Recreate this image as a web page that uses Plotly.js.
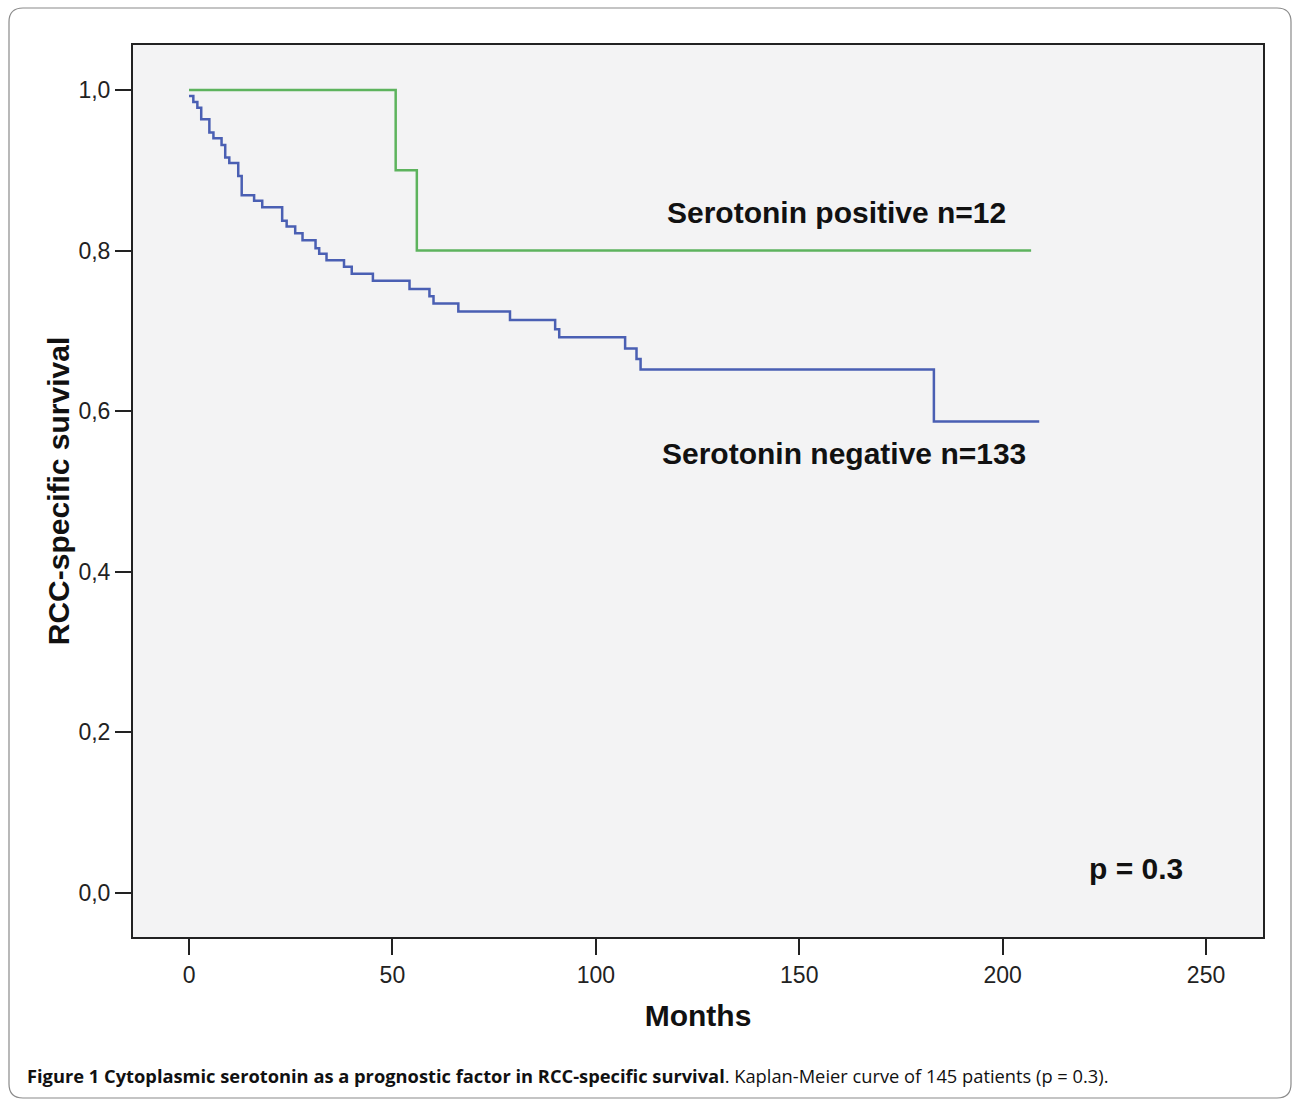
<!DOCTYPE html>
<html>
<head>
<meta charset="utf-8">
<script src="https://cdn.plot.ly/plotly-3.0.1.min.js"></script>
<style>
  html, body { margin: 0; padding: 0; background: #ffffff; }
  #chart { width: 1292px; height: 1100px; }
</style>
</head>
<body>
<div id="chart"></div>
<script>
// Serotonin negative (n=133) Kaplan-Meier steps
const negTime = [0, 1.06, 2.05, 3.0, 5.0, 6.0, 8.0, 8.9, 9.9, 12.1, 12.95, 16.0, 18.0, 22.9, 24.0, 26.1, 27.9, 31.1, 32.0, 33.8, 38.1, 40.0, 45.2, 54.2, 59.1, 60.1, 66.2, 78.9, 90.0, 91.0, 107.2, 110.0, 111.0, 183.1, 209.0];
const negSurv = [0.9925, 0.985, 0.978, 0.9635, 0.947, 0.94, 0.9315, 0.916, 0.909, 0.893, 0.869, 0.862, 0.854, 0.837, 0.830, 0.8215, 0.813, 0.803, 0.796, 0.788, 0.780, 0.771, 0.7625, 0.752, 0.743, 0.734, 0.724, 0.7136, 0.702, 0.692, 0.678, 0.665, 0.652, 0.587, 0.587];

// Serotonin positive (n=12)
const posTime = [0, 50.8, 56.0, 207.0];
const posSurv = [1.0, 0.9, 0.8, 0.8];

// Axis ticks
const xTickVals = [0, 50, 100, 150, 200, 250];
const yTickVals = [0, 0.2, 0.4, 0.6, 0.8, 1.0];
const yTickText = ['0,0', '0,2', '0,4', '0,6', '0,8', '1,0'];

// Labels
const labelPos = 'Serotonin positive n=12';
const labelNeg = 'Serotonin negative n=133';
const labelP = 'p = 0.3';
const caption = '<b>Figure 1 Cytoplasmic serotonin as a prognostic factor in RCC-specific survival</b>. Kaplan-Meier curve of 145 patients (p = 0.3).';

const traces = [
  {
    x: negTime, y: negSurv, type: 'scatter', mode: 'lines',
    line: { shape: 'hv', color: '#4a5fb3', width: 2.5 },
    name: 'Serotonin negative', showlegend: false, hoverinfo: 'skip'
  },
  {
    x: posTime, y: posSurv, type: 'scatter', mode: 'lines',
    line: { shape: 'hv', color: '#5db35d', width: 2.5 },
    name: 'Serotonin positive', showlegend: false, hoverinfo: 'skip'
  }
];

const axisFont = { family: 'Liberation Sans, Arial, sans-serif', size: 23, color: '#222' };
const titleFont = { family: 'Liberation Sans, Arial, sans-serif', size: 30, color: '#111', weight: 'bold' };

// Outer rounded frame (paper coords relative to plot area)
const L = 133, R = 1263, T = 45, B = 937;
const W = R - L, H = B - T;
const px = v => (v - L) / W;
const py = v => (B - v) / H;
const fx0 = 9, fx1 = 1291, fy0 = 8, fy1 = 1098, rad = 14;
const framePath = [
  'M', px(fx0 + rad), py(fy0),
  'L', px(fx1 - rad), py(fy0),
  'Q', px(fx1), py(fy0), px(fx1), py(fy0 + rad),
  'L', px(fx1), py(fy1 - rad),
  'Q', px(fx1), py(fy1), px(fx1 - rad), py(fy1),
  'L', px(fx0 + rad), py(fy1),
  'Q', px(fx0), py(fy1), px(fx0), py(fy1 - rad),
  'L', px(fx0), py(fy0 + rad),
  'Q', px(fx0), py(fy0), px(fx0 + rad), py(fy0),
  'Z'
].join(' ');

const layout = {
  width: 1292, height: 1100,
  margin: { l: L, r: 1292 - R, t: T, b: 1100 - B, pad: 0 },
  paper_bgcolor: '#ffffff',
  plot_bgcolor: '#f3f3f4',
  showlegend: false,
  xaxis: {
    range: [-13.77, 264], tickvals: xTickVals, ticks: 'outside', ticklen: 16, tickwidth: 2, tickcolor: '#222',
    showline: true, linecolor: '#222', linewidth: 2, mirror: true, showgrid: false, zeroline: false,
    tickfont: axisFont,
    title: { text: 'Months', font: titleFont, standoff: 18 }
  },
  yaxis: {
    range: [-0.0548, 1.056], tickvals: yTickVals, ticktext: yTickText, ticks: 'outside', ticklen: 16, tickwidth: 2, tickcolor: '#222',
    showline: true, linecolor: '#222', linewidth: 2, mirror: true, showgrid: false, zeroline: false,
    tickfont: axisFont,
    title: { text: 'RCC-specific survival', font: titleFont, standoff: 0 }
  },
  annotations: [
    { x: 159.2, y: 0.8468, xref: 'x', yref: 'y', text: labelPos, showarrow: false, xanchor: 'center', yanchor: 'middle', font: titleFont },
    { x: 160.9, y: 0.5467, xref: 'x', yref: 'y', text: labelNeg, showarrow: false, xanchor: 'center', yanchor: 'middle', font: titleFont },
    { x: 232.7, y: 0.0299, xref: 'x', yref: 'y', text: labelP, showarrow: false, xanchor: 'center', yanchor: 'middle', font: titleFont },
    { x: px(25), y: py(1075), xref: 'paper', yref: 'paper', text: caption, showarrow: false, xanchor: 'left', yanchor: 'middle',
      font: { family: 'Open Sans, Noto Sans, sans-serif', size: 18.3, color: '#111' } }
  ],
  shapes: [
    { type: 'path', xref: 'paper', yref: 'paper', path: framePath, line: { color: '#8a8a8a', width: 1.2 }, fillcolor: 'rgba(0,0,0,0)', layer: 'below' }
  ]
};

Plotly.newPlot('chart', traces, layout, { staticPlot: true, displayModeBar: false });
</script>
</body>
</html>
